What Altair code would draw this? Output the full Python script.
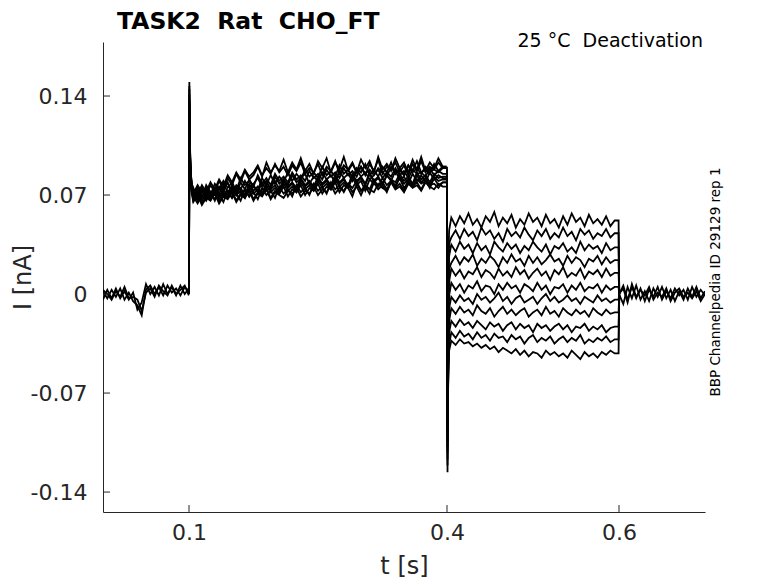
import altair as alt
import pandas as pd

# ---------------- data (currents in units of 0.001 nA) ----------------
# holding before the step
PRE_T = [0.000, 0.005, 0.010, 0.015, 0.020, 0.025, 0.030, 0.035, 0.040, 0.045,
         0.050, 0.055, 0.060, 0.065, 0.070, 0.075, 0.080, 0.085, 0.090, 0.095, 0.0998]
PRE_1 = [2, -3, 3, -2, 4, -4, 1, -5, -8, -15, 3, 6, 0, 5, -1, 6, 1, 4, -1, 5, 2]
PRE_2 = [-4, 3, -3, 4, -3, 2, -4, 1, -11, -6, 7, 0, 5, -1, 7, 0, 5, -1, 6, 0, 4]
PRE_3 = [3, 0, -4, 2, -2, 5, -3, -2, -4, -12, 1, 4, -2, 6, 2, -1, 6, 0, 3, 6, -1]

# activation step 0.1 - 0.4 s : onset points, then samples every 5 ms from 0.105 s
STEP_ON_T = [0.1, 0.1004, 0.1012, 0.102, 0.1032]
STEP_ON = [
    [0, 150, 104, 86, 78],
    [0, 141, 99, 84, 76],
    [0, 134, 96, 82, 75],
    [0, 129, 93, 80, 73],
    [0, 145, 101, 83, 74],
    [0, 138, 97, 85, 77],
    [0, 132, 95, 81, 74],
    [0, 147, 102, 86, 78],
    [0, 127, 92, 79, 72],
    [0, 136, 98, 84, 76],
    [0, 125, 90, 78, 71],
]
STEP_T0 = 0.105
STEP_DT = 0.005
STEP = [
    [75, 68, 76, 70, 77, 72, 80, 74, 82, 77, 85, 79, 87, 81, 84, 90, 83, 93, 86, 91,
     87, 95, 86, 93, 88, 96, 87, 92, 85, 94, 89, 96, 86, 93, 88, 97, 87, 92, 86, 95,
     89, 94, 86, 97, 88, 92, 87, 96, 89, 93, 86, 95, 88, 97, 87, 93, 89, 96, 90],
    [70, 76, 69, 74, 67, 75, 71, 78, 72, 76, 70, 79, 74, 81, 76, 73, 82, 77, 84, 78,
     83, 79, 86, 80, 85, 81, 88, 83, 86, 82, 90, 84, 87, 83, 91, 85, 88, 82, 89, 86,
     92, 84, 88, 83, 90, 86, 93, 85, 89, 84, 91, 87, 94, 86, 88, 85, 92, 87, 90],
    [73, 67, 74, 69, 72, 66, 75, 70, 73, 68, 76, 71, 74, 69, 77, 72, 79, 73, 76, 80,
     74, 81, 76, 79, 75, 82, 77, 80, 76, 83, 78, 81, 77, 84, 79, 82, 76, 85, 80, 83,
     78, 86, 79, 82, 77, 84, 80, 87, 81, 83, 78, 85, 80, 84, 79, 86, 81, 84, 82],
    [68, 73, 66, 71, 68, 74, 67, 72, 69, 75, 70, 73, 68, 76, 71, 74, 70, 77, 72, 75,
     71, 78, 73, 76, 72, 79, 74, 77, 73, 80, 75, 78, 74, 81, 76, 79, 75, 82, 77, 80,
     73, 81, 78, 76, 82, 77, 80, 75, 83, 78, 81, 76, 84, 79, 82, 77, 83, 80, 81],
    [66, 71, 64, 69, 67, 72, 65, 70, 68, 73, 66, 71, 69, 74, 67, 72, 70, 75, 68, 73,
     71, 76, 69, 74, 72, 77, 70, 75, 73, 78, 71, 76, 74, 79, 72, 77, 75, 69, 78, 73,
     76, 71, 79, 74, 77, 72, 80, 75, 78, 73, 81, 76, 79, 74, 80, 77, 78, 75, 79],
    [71, 74, 68, 77, 72, 70, 76, 73, 79, 71, 77, 74, 80, 75, 78, 82, 76, 80, 74, 83,
     78, 81, 77, 84, 79, 82, 85, 78, 83, 80, 86, 81, 84, 79, 87, 82, 85, 80, 88, 83,
     86, 81, 84, 88, 82, 86, 83, 89, 84, 87, 82, 88, 85, 86, 83, 89, 84, 87, 85],
    [72, 66, 73, 68, 71, 75, 69, 74, 70, 77, 72, 75, 70, 78, 73, 76, 71, 79, 74, 77,
     72, 80, 75, 78, 73, 81, 76, 79, 74, 82, 77, 80, 75, 83, 78, 81, 76, 84, 79, 82,
     77, 85, 80, 83, 78, 84, 81, 79, 85, 80, 83, 78, 86, 81, 84, 79, 85, 82, 83],
    [74, 70, 77, 72, 79, 74, 81, 76, 84, 79, 86, 81, 88, 83, 86, 91, 84, 89, 85, 92,
     86, 90, 84, 91, 87, 93, 85, 89, 86, 92, 84, 90, 87, 94, 85, 91, 88, 93, 86, 90,
     84, 92, 87, 95, 85, 90, 88, 93, 86, 91, 84, 92, 87, 94, 86, 90, 88, 93, 89],
    [69, 64, 70, 66, 72, 67, 71, 65, 73, 68, 71, 66, 74, 69, 72, 67, 75, 70, 73, 68,
     76, 71, 74, 69, 77, 72, 75, 70, 78, 73, 76, 71, 79, 74, 77, 72, 78, 75, 80, 73,
     77, 74, 81, 76, 79, 74, 80, 77, 82, 75, 79, 76, 81, 78, 80, 75, 82, 77, 79],
    [71, 77, 72, 75, 70, 78, 74, 80, 75, 79, 73, 82, 77, 80, 76, 84, 78, 82, 77, 85,
     80, 83, 79, 86, 81, 84, 80, 87, 82, 85, 81, 88, 83, 86, 82, 89, 84, 87, 83, 90,
     85, 88, 84, 89, 86, 83, 90, 85, 88, 84, 91, 86, 89, 85, 90, 87, 88, 86, 89],
    [65, 70, 63, 68, 66, 71, 64, 69, 67, 72, 65, 70, 68, 73, 66, 71, 69, 74, 67, 72,
     70, 68, 73, 71, 75, 69, 73, 71, 76, 70, 74, 72, 77, 71, 75, 73, 78, 72, 76, 70,
     77, 74, 72, 78, 75, 73, 79, 74, 76, 72, 78, 75, 77, 73, 79, 76, 74, 78, 76],
]
STEP_END_T = 0.3995

# deactivation tails 0.4 - 0.6 s
TAIL_ON_T = [0.4, 0.4006, 0.4014, 0.4025]
TAIL_START = [90, 88, 86, 85, 84, 83, 82, 81, 80, 79, 78]
TAIL_SPIKE = [-126, -121, -117, -112, -108, -104, -100, -96, -93, -90, -87]
TAIL_LEVEL = [51, 42, 33, 24, 15, 5, -4, -13, -21, -30, -34]
TAIL_T0 = 0.405
TAIL_DT = 0.005
TAIL = [
    [54, 48, 55, 50, 57, 49, 53, 47, 55, 51, 58, 48, 54, 50, 56, 47, 53, 49, 57, 51,
     54, 48, 56, 50, 53, 47, 55, 49, 57, 51, 54, 48, 56, 50, 53, 49, 55, 48, 52],
    [40, 45, 39, 46, 41, 44, 38, 47, 42, 45, 39, 43, 37, 46, 41, 44, 40, 47, 42, 38,
     45, 41, 46, 39, 43, 40, 47, 41, 44, 38, 46, 42, 45, 39, 43, 41, 46, 40, 43],
    [35, 30, 37, 32, 35, 29, 36, 31, 34, 28, 37, 33, 30, 36, 32, 35, 29, 34, 31, 37,
     33, 30, 35, 28, 34, 32, 36, 30, 33, 29, 37, 31, 35, 32, 34, 29, 36, 31, 33],
    [22, 27, 21, 26, 23, 28, 20, 25, 22, 27, 24, 19, 26, 22, 28, 23, 25, 20, 27, 22,
     26, 21, 24, 28, 23, 25, 20, 27, 22, 26, 24, 19, 25, 23, 27, 21, 26, 22, 24],
    [18, 13, 17, 11, 16, 14, 19, 12, 17, 15, 11, 18, 13, 16, 12, 19, 14, 17, 11, 15,
     18, 13, 16, 10, 17, 14, 19, 12, 15, 13, 18, 11, 16, 14, 17, 12, 18, 13, 15],
    [8, 3, 7, 1, 6, 4, 9, 2, 6, 5, 0, 7, 3, 8, 4, 6, 1, 7, 5, 2,
     8, 3, 6, 0, 5, 4, 7, 1, 6, 3, 8, 2, 5, 4, 7, 1, 6, 3, 5],
    [-2, -6, -1, -5, -3, -7, 0, -4, -2, -6, -3, 1, -5, -2, -7, -3, -1, -6, -4, -2,
     -7, -3, 0, -5, -2, -6, -4, -1, -5, -3, -7, -2, -4, -6, -1, -5, -3, -6, -4],
    [-10, -14, -9, -13, -11, -15, -8, -12, -14, -10, -16, -12, -9, -14, -11, -15, -12, -10, -16, -13,
     -11, -15, -9, -14, -12, -16, -10, -13, -15, -11, -14, -12, -16, -10, -13, -15, -11, -14, -13],
    [-19, -23, -18, -22, -20, -24, -19, -22, -25, -20, -23, -21, -26, -22, -20, -25, -21, -24, -22, -27,
     -21, -24, -22, -26, -23, -21, -25, -22, -27, -23, -24, -21, -26, -23, -25, -22, -27, -24, -23],
    [-27, -31, -26, -30, -28, -32, -27, -31, -29, -33, -28, -31, -30, -34, -29, -32, -30, -35, -31, -29,
     -34, -31, -33, -30, -35, -32, -30, -34, -31, -33, -29, -35, -32, -34, -31, -33, -30, -34, -32],
    [-33, -36, -32, -35, -34, -37, -35, -38, -36, -39, -37, -41, -38, -40, -42, -39, -43, -40, -44, -41,
     -42, -45, -40, -43, -41, -44, -42, -45, -40, -43, -46, -41, -44, -42, -45, -41, -43, -40, -42],
]
TAIL_END_T = [0.5995, 0.6003]

# holding after the tails
POST_T = [0.600, 0.605, 0.610, 0.615, 0.620, 0.625, 0.630, 0.635, 0.640, 0.645,
          0.650, 0.655, 0.660, 0.665, 0.670, 0.675, 0.680, 0.685, 0.690, 0.695, 0.700]
POST_1 = [0, 6, -4, 5, -3, 4, -5, 3, -2, 5, -4, 2, -3, 4, -1, 3, -4, 5, -2, 3, -1]
POST_2 = [0, -7, 5, -3, 6, -4, 2, -5, 4, -2, 5, -3, 3, -5, 2, -4, 4, -2, 5, -3, 2]
POST_3 = [0, 4, -6, 7, -2, 3, -1, 5, -4, 1, -2, 4, -5, 1, 4, -2, 1, -3, 2, -5, 0]

X_TICKS = [0.1, 0.4, 0.6]
Y_TICKS = [-0.14, -0.07, 0, 0.07, 0.14]
X_DOMAIN = [0.0, 0.7]
Y_DOMAIN = [-0.1541, 0.1782]

NB = "\u00a0"
TITLE = "TASK2" + NB + NB + "Rat" + NB + NB + "CHO_FT"
SUBTITLE = "25 °C" + NB + NB + "Deactivation"
SIDE_NOTE = "BBP Channelpedia ID 29129 rep 1"

# ---------------- build table ----------------
rows = []


def add(group, ts, vs):
    for k, (t, v) in enumerate(zip(ts, vs)):
        rows.append({"t": t, "i": v / 1000.0, "g": group, "k": k})


for n, vals in enumerate([PRE_1, PRE_2, PRE_3]):
    add(f"pre{n}", PRE_T, vals)

for n, (on, vals) in enumerate(zip(STEP_ON, STEP)):
    ts = list(STEP_ON_T)
    vs = list(on)
    for j, v in enumerate(vals):
        t = round(STEP_T0 + STEP_DT * j, 4)
        if t <= 0.396:
            ts.append(t)
            vs.append(v)
    ts.append(STEP_END_T)
    vs.append(vs[-1])
    add(f"step{n}", ts, vs)

for n, vals in enumerate(TAIL):
    lev = TAIL_LEVEL[n]
    ts = list(TAIL_ON_T)
    vs = [TAIL_START[n], TAIL_SPIKE[n], lev - 30, lev - 6]
    for j, v in enumerate(vals):
        t = round(TAIL_T0 + TAIL_DT * j, 4)
        if t <= 0.596:
            ts.append(t)
            vs.append(v)
    ts += TAIL_END_T
    vs += [vs[-1], 0]
    add(f"tail{n}", ts, vs)

for n, vals in enumerate([POST_1, POST_2, POST_3]):
    add(f"post{n}", POST_T, vals)

df = pd.DataFrame(rows)

FONT = "DejaVu Sans"
TXT = "#262626"

x_axis = alt.Axis(values=X_TICKS, format=".1f", ticks=False, grid=False,
                  domainColor=TXT, domainWidth=1, labelFont=FONT, labelFontSize=22,
                  labelColor=TXT, labelPadding=10, title="t [s]", titleFont=FONT,
                  titleFontSize=24, titleFontWeight="normal", titleColor=TXT,
                  titlePadding=11)
y_axis = alt.Axis(values=Y_TICKS, ticks=False, grid=False,
                  labelExpr="datum.value == 0 ? '0' : (datum.value < 0 ? '-' + format(-datum.value, '.2f') : format(datum.value, '.2f'))",
                  domainColor=TXT, domainWidth=1, labelFont=FONT, labelFontSize=22,
                  labelColor=TXT, labelPadding=16, title="I [nA]", titleFont=FONT,
                  titleFontSize=24, titleFontWeight="normal", titleColor=TXT,
                  titleX=-80, titleY=235, titleAngle=270, titleAlign="center",
                  titleBaseline="middle")

x_enc = alt.X("t:Q", scale=alt.Scale(domain=X_DOMAIN, nice=False, zero=False), axis=x_axis)
y_enc = alt.Y("i:Q", scale=alt.Scale(domain=Y_DOMAIN, nice=False, zero=False), axis=y_axis)

lines = alt.Chart(df).mark_line(color="black", strokeWidth=1.8, clip=True).encode(
    x=x_enc, y=y_enc, detail="g:N", order="k:Q"
)

xt = alt.Chart(pd.DataFrame({"t": X_TICKS})).mark_rule(color=TXT, strokeWidth=1).encode(
    x=x_enc, y=alt.value(470), y2=alt.value(463)
)
yt = alt.Chart(pd.DataFrame({"i": Y_TICKS})).mark_rule(color=TXT, strokeWidth=1).encode(
    y=y_enc, x=alt.value(0), x2=alt.value(7)
)

title = alt.Chart(pd.DataFrame({"s": [TITLE]})).mark_text(
    font=FONT, fontSize=23.5, fontWeight="bold", color="black", align="left", baseline="alphabetic"
).encode(x=alt.value(14), y=alt.value(-13), text="s:N")

sub = alt.Chart(pd.DataFrame({"s": [SUBTITLE]})).mark_text(
    font=FONT, fontSize=19, color="black", align="right", baseline="alphabetic"
).encode(x=alt.value(600), y=alt.value(5), text="s:N")

side = alt.Chart(pd.DataFrame({"s": [SIDE_NOTE]})).mark_text(
    font=FONT, fontSize=13.5, color="black", align="center", baseline="middle", angle=270
).encode(x=alt.value(613), y=alt.value(240), text="s:N")

chart = alt.layer(lines, xt, yt, title, sub, side).properties(
    width=602, height=470,
    autosize=alt.AutoSizeParams(type="none"),
    padding={"left": 95, "top": 34, "right": 60, "bottom": 70},
    background="white",
).configure_view(stroke=None, strokeWidth=0)

chart.save("out.html", embed_options={"renderer": "svg", "actions": False})
